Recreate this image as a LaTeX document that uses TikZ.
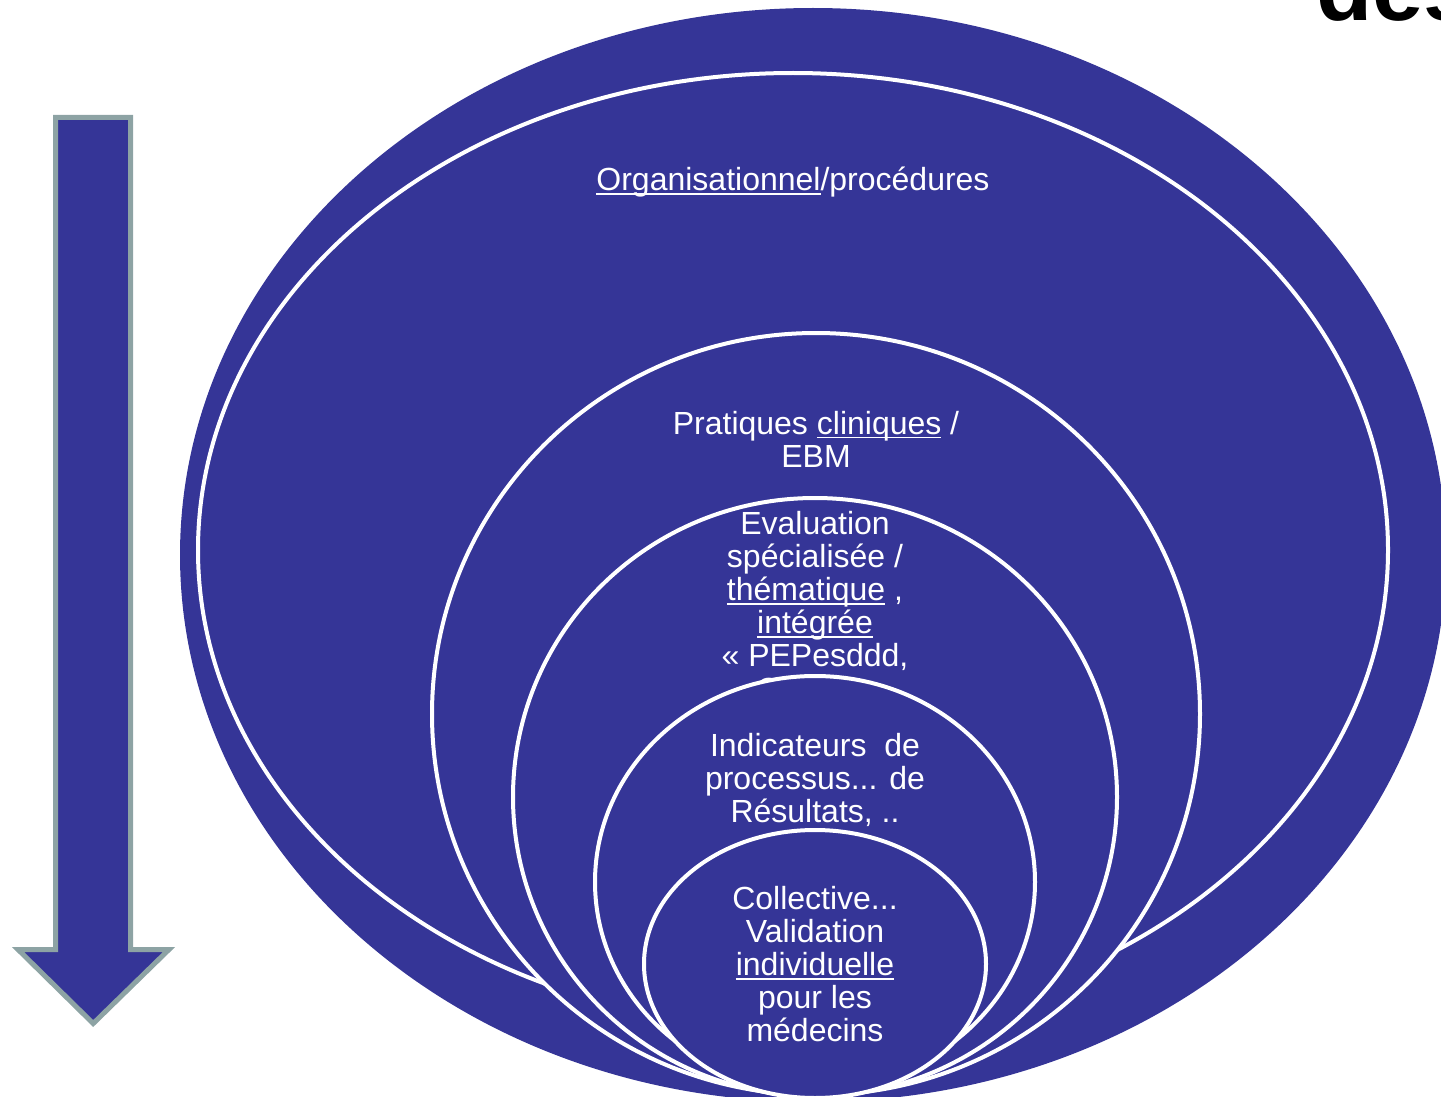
\documentclass[tikz,border=0pt]{standalone}
\usepackage{fontspec}
\setmainfont{Liberation Sans}
\usetikzlibrary{shapes.geometric}
\definecolor{navy}{RGB}{53,53,151}
\definecolor{arrowedge}{RGB}{141,163,164}
\newcommand\ulw[1]{\leavevmode\setbox0\hbox{#1}\rlap{\rule[-2.2pt]{\wd0}{0.9pt}}\box0\relax}
\begin{document}
\begin{tikzpicture}[x=0.5pt,y=-0.5pt,
  ring/.style={ellipse, draw=white, line width=2pt, fill=navy, inner sep=0pt, outer sep=0pt},
  lbl/.style={text=white, align=center, font=\fontsize{16}{16.5}\selectfont, inner sep=0pt}]
\useasboundingbox (0,0) rectangle (1441,1097);
\clip (0,0) rectangle (1441,1097);
% big background ellipse
\node[ellipse, fill=navy, inner sep=0pt, minimum width=633pt, minimum height=547pt] (outer) at (813,555) {};
% nested rings
\node[ring, minimum width=595pt, minimum height=477pt] (e1) at (793,550) {};
\node[lbl] (t1) at (793,182) {\ulw{Organisationnel}/procédures};
\node[ring, minimum width=384pt, minimum height=381pt] (e2) at (816,714) {};
\node[lbl] (t2) at (816,439) {Pratiques \ulw{cliniques} /\\EBM};
\node[ring, minimum width=302pt, minimum height=299pt] (e3) at (815,797) {};
\node[lbl] (t3) at (815,591) {Evaluation\\spécialisée /\\\ulw{thématique} ,\\\ulw{intégrée}\\« PEPesddd,};
\node[lbl, anchor=base west] (t3b) at (756,700) {C};
\node[ring, minimum width=220pt, minimum height=206pt] (e4) at (815,882) {};
\node[lbl] (t4) at (815,780) {Indicateurs\ \ de\\processus... de\\Résultats, ..};
\node[ring, minimum width=171pt, minimum height=134pt] (e5) at (815,964) {};
\node[lbl] (t5) at (815,964) {Collective...\\Validation\\\ulw{individuelle}\\pour les\\médecins};
% down arrow
\draw[draw=arrowedge, fill=navy, line width=2.5pt, miter limit=10]
  (55.5,117.5) -- (130.5,117.5) -- (130.5,949.5) -- (169,949.5) -- (93.2,1023.5)
  -- (18,949.5) -- (55.5,949.5) -- cycle;
% cut-off title text
\node[anchor=base west, inner sep=0pt, font=\fontsize{46}{46}\selectfont\bfseries] (des) at (1316,21) {des};
\end{tikzpicture}
\end{document}
